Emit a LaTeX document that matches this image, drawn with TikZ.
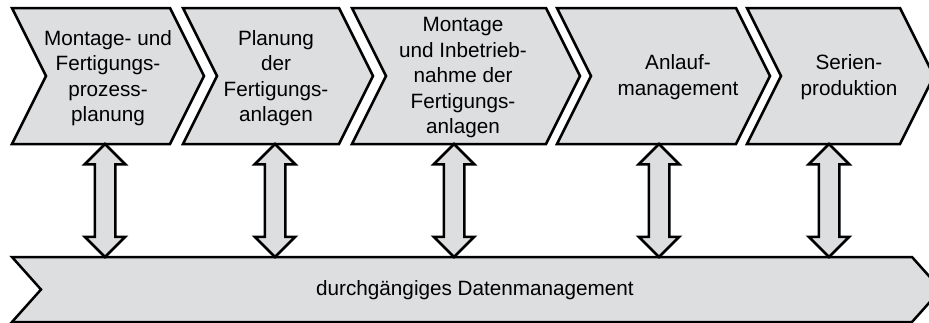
\documentclass[tikz,border=0pt]{standalone}
\usepackage{fontspec}
\setmainfont{Liberation Sans}
\usetikzlibrary{shapes.arrows}
\definecolor{procgray}{RGB}{221,222,224}
\begin{document}
\begin{tikzpicture}[x=1pt,y=-1pt,
  chev/.style={draw,fill=procgray,line width=2.5pt,line join=miter},
  lbl/.style={align=center,inner sep=0pt,font=\fontsize{20.7}{25.5}\selectfont},
  dblarrow/.style={double arrow,draw,fill=procgray,line width=2.5pt,rotate=90,
    minimum height=113pt,minimum width=38pt,inner xsep=0pt,inner ysep=9pt,
    double arrow head extend=10pt}]
\useasboundingbox (0,0) rectangle (929,322);
\clip (0,0) rectangle (929,322);

% process steps
\path[chev] (12,8) -- (170,8) -- (204,76) -- (170,144) -- (12,144) -- (46,76) -- cycle;
\path[chev] (183,8) -- (339,8) -- (373,76) -- (339,144) -- (183,144) -- (217,76) -- cycle;
\path[chev] (352,8) -- (546,8) -- (580,76) -- (546,144) -- (352,144) -- (386,76) -- cycle;
\path[chev] (557,8) -- (736,8) -- (770,76) -- (736,144) -- (557,144) -- (591,76) -- cycle;
\path[chev] (747,8) -- (900,8) -- (934,76) -- (900,144) -- (747,144) -- (781,76) -- cycle;

% data management
\path[chev] (12,257) -- (912,257) -- (941,289.5) -- (912,322) -- (12,322) -- (41,289.5) -- cycle;

\node[lbl] (s1) at (108,78) {Montage- und\\Fertigungs-\\prozess-\\planung};
\node[lbl] (s2) at (276,78) {Planung\\der\\Fertigungs-\\anlagen};
\node[lbl] (s3) at (463,78) {Montage\\und Inbetrieb-\\nahme der\\Fertigungs-\\anlagen};
\node[lbl] (s4) at (678,77) {Anlauf-\\management};
\node[lbl] (s5) at (849,77) {Serien-\\produktion};
\node[lbl] (dm) at (475,290) {durchgängiges Datenmanagement};

\coordinate (a1) at (105,144); \coordinate (b1) at (105,257);
\coordinate (a2) at (275,144); \coordinate (b2) at (275,257);
\coordinate (a3) at (454,144); \coordinate (b3) at (454,257);
\coordinate (a4) at (659,144); \coordinate (b4) at (659,257);
\coordinate (a5) at (829,144); \coordinate (b5) at (829,257);

\path (a1) -- (b1) node[midway,dblarrow] (v1) {};
\path (a2) -- (b2) node[midway,dblarrow] (v2) {};
\path (a3) -- (b3) node[midway,dblarrow] (v3) {};
\path (a4) -- (b4) node[midway,dblarrow] (v4) {};
\path (a5) -- (b5) node[midway,dblarrow] (v5) {};
\end{tikzpicture}
\end{document}
